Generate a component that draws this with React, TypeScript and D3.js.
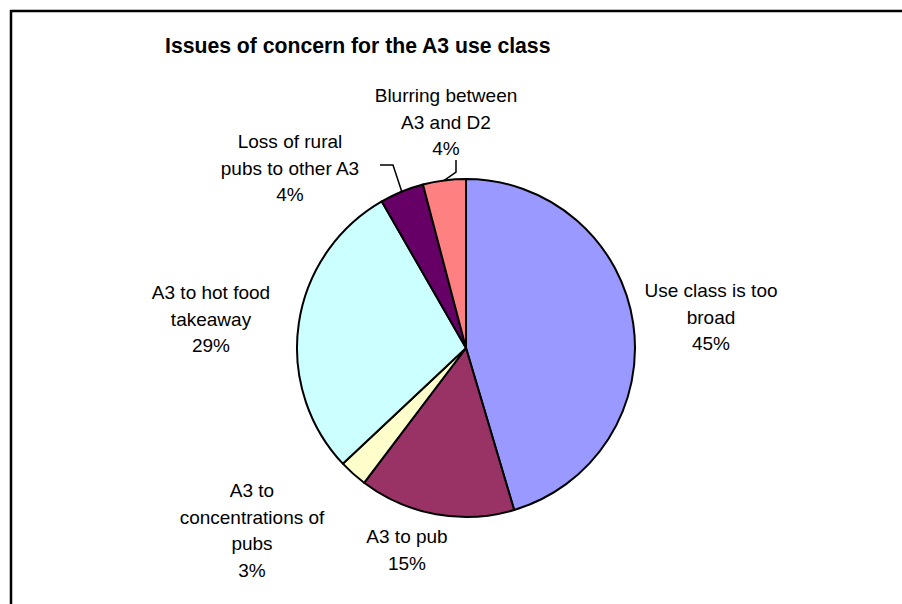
import React from "react";
import * as d3 from "d3";

const categories = [
  "Use class is too broad",
  "A3 to pub",
  "A3 to concentrations of pubs",
  "A3 to hot food takeaway",
  "Loss of rural pubs to other A3",
  "Blurring between A3 and D2",
];
const values = [45.4, 14.9, 2.7, 28.7, 4.2, 4.1];
const percentLabels = ["45%", "15%", "3%", "29%", "4%", "4%"];
const labelLines = [
  ["Use class is too", "broad"],
  ["A3 to pub"],
  ["A3 to", "concentrations of", "pubs"],
  ["A3 to hot food", "takeaway"],
  ["Loss of rural", "pubs to other A3"],
  ["Blurring between", "A3 and D2"],
];
const colors = ["#9999FF", "#993366", "#FFFFCC", "#CCFFFF", "#660066", "#FF8080"];

// layout (label anchor: center x, first baseline y)
const labelPos: [number, number][] = [
  [711, 297],
  [407, 543],
  [252, 497],
  [211, 299],
  [290, 148],
  [446, 102],
];
const leaderElbow: ([number, number][] | null)[] = [
  null,
  null,
  null,
  null,
  [[380, 165], [393, 165]],
  [[456, 160], [456, 172]],
];

const W = 902;
const H = 604;
const cx = 466;
const cy = 348;
const R = 169;
const LH = 26.5;

export default function App() {
  const pie = d3.pie<number>().sort(null).value((d) => d);
  const arcs = pie(values);
  const arcGen = d3.arc<d3.PieArcDatum<number>>().innerRadius(0).outerRadius(R);

  return (
    <svg
      width={W}
      height={H}
      style={{ position: "absolute", left: 0, top: 0, background: "#fff" }}
      fontFamily="'Liberation Sans', Arial, sans-serif"
    >
      <rect x={0} y={0} width={W} height={H} fill="#fff" />
      <rect x={11} y={11} width={W + 20} height={H + 20} fill="none" stroke="#000" strokeWidth={2.5} />
      <text x={165} y={53} fontSize={21.2} fontWeight="bold" fill="#000">
        Issues of concern for the A3 use class
      </text>
      <g transform={`translate(${cx},${cy})`}>
        {arcs.map((a, i) => (
          <path
            key={categories[i]}
            d={arcGen(a) || ""}
            fill={colors[i]}
            stroke="#000"
            strokeWidth={2}
            strokeLinejoin="round"
          />
        ))}
      </g>
      {arcs.map((a, i) => {
        const el = leaderElbow[i];
        if (!el) return null;
        const mid = (a.startAngle + a.endAngle) / 2;
        const ex = cx + R * Math.sin(mid);
        const ey = cy - R * Math.cos(mid);
        const pts = [...el, [ex, ey]] as [number, number][];
        return (
          <path
            key={"l" + i}
            d={d3.line()(pts) || ""}
            fill="none"
            stroke="#000"
            strokeWidth={1.5}
          />
        );
      })}
      {labelLines.map((lines, i) => {
        const [x, y] = labelPos[i];
        const all = [...lines, percentLabels[i]];
        return (
          <text key={"t" + i} x={x} y={y} fontSize={19} textAnchor="middle" fill="#000">
            {all.map((s, j) => (
              <tspan key={j} x={x} y={y + j * LH}>
                {s}
              </tspan>
            ))}
          </text>
        );
      })}
    </svg>
  );
}
